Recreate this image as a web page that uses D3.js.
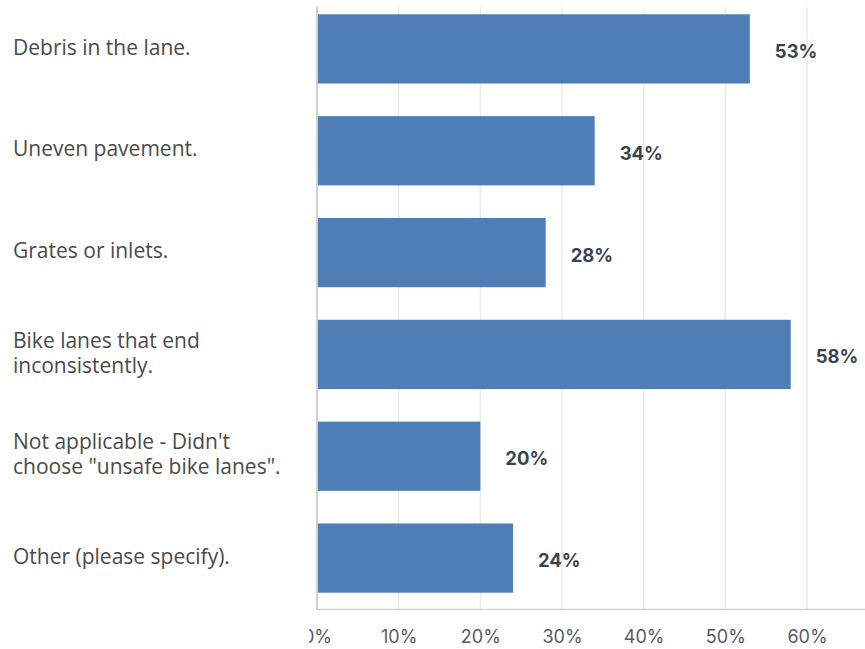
<!DOCTYPE html>
<html>
<head>
<meta charset="utf-8">
<script src="https://cdn.jsdelivr.net/npm/d3@7"></script>
<style>
  html, body { margin: 0; padding: 0; background: #fff; }
  svg { display: block; }
</style>
</head>
<body>
<svg id="chart" width="865" height="649"></svg>
<script>
// Survey answers: issues with bike lanes
const categories = [
  ["Debris in the lane."],
  ["Uneven pavement."],
  ["Grates or inlets."],
  ["Bike lanes that end", "inconsistently."],
  ["Not applicable - Didn't", "choose \"unsafe bike lanes\"."],
  ["Other (please specify)."]
];
const values = [53, 34, 28, 58, 20, 24];
const tickValues = [0, 10, 20, 30, 40, 50, 60];

const svg = d3.select("#chart");
const W = 865, H = 649;
const x0 = 317, x60 = 807;

const x = d3.scaleLinear().domain([0, 60]).range([x0, x60]);
const y = d3.scaleBand()
  .domain(d3.range(values.length))
  .range([-2, 609])
  .paddingInner(0.32)
  .paddingOuter(0.16);

// Clip region for the plot-side content (cuts the left part of "0%")
svg.append("defs").append("clipPath").attr("id", "plotClip")
  .append("rect").attr("x", 309).attr("y", 0).attr("width", W - 309).attr("height", H);

const plot = svg.append("g").attr("clip-path", "url(#plotClip)");

// Vertical grid lines
plot.append("g")
  .selectAll("line")
  .data(tickValues.slice(1))
  .join("line")
  .attr("x1", d => x(d)).attr("x2", d => x(d))
  .attr("y1", 7).attr("y2", 609)
  .attr("stroke", "#ebebeb")
  .attr("stroke-width", 1.5);

// Bottom axis line
plot.append("line")
  .attr("x1", x0).attr("x2", W)
  .attr("y1", 609.5).attr("y2", 609.5)
  .attr("stroke", "#d4d4d4")
  .attr("stroke-width", 1.5);

// Left axis line
plot.append("line")
  .attr("x1", x0).attr("x2", x0)
  .attr("y1", 7).attr("y2", 610)
  .attr("stroke", "#d0d0d0")
  .attr("stroke-width", 2);

// Bars
plot.append("g")
  .selectAll("rect")
  .data(values)
  .join("rect")
  .attr("x", x0 + 1)
  .attr("y", (d, i) => y(i))
  .attr("width", d => x(d) - x0 - 1)
  .attr("height", y.bandwidth())
  .attr("fill", "#4f7db5");

// Value labels
plot.append("g")
  .selectAll("text")
  .data(values)
  .join("text")
  .attr("x", d => x(d) + 25)
  .attr("y", (d, i) => y(i) + y.bandwidth() / 2 + 4)
  .attr("dominant-baseline", "middle")
  .attr("font-family", "Inter, 'Open Sans', sans-serif")
  .attr("font-weight", 700)
  .attr("font-size", 18.5)
  .attr("fill", "#3a4350")
  .text(d => d + "%");

// X axis tick labels
const xAxis = d3.axisBottom(x)
  .tickValues(tickValues)
  .tickFormat(d => d + "%")
  .tickSize(0)
  .tickPadding(0);
const ax = plot.append("g")
  .attr("transform", "translate(0,630)")
  .call(xAxis);
ax.select(".domain").remove();
ax.selectAll("text")
  .attr("font-family", "Inter, 'Open Sans', sans-serif")
  .attr("font-size", 18)
  .attr("fill", "#555b63");

// Category labels
const lab = svg.append("g")
  .selectAll("text")
  .data(categories)
  .join("text")
  .attr("x", 13)
  .attr("font-family", "'Open Sans', sans-serif")
  .attr("font-size", 21)
  .attr("fill", "#4a4a4a");
lab.each(function(lines, i) {
  const cy = y(i) + y.bandwidth() / 2;
  const lh = 25;
  const start = cy - (lines.length - 1) * lh / 2;
  d3.select(this).selectAll("tspan")
    .data(lines)
    .join("tspan")
    .attr("x", 13)
    .attr("y", (d, j) => start + j * lh)
    .attr("dominant-baseline", "middle")
    .text(d => d);
});
</script>
</body>
</html>
